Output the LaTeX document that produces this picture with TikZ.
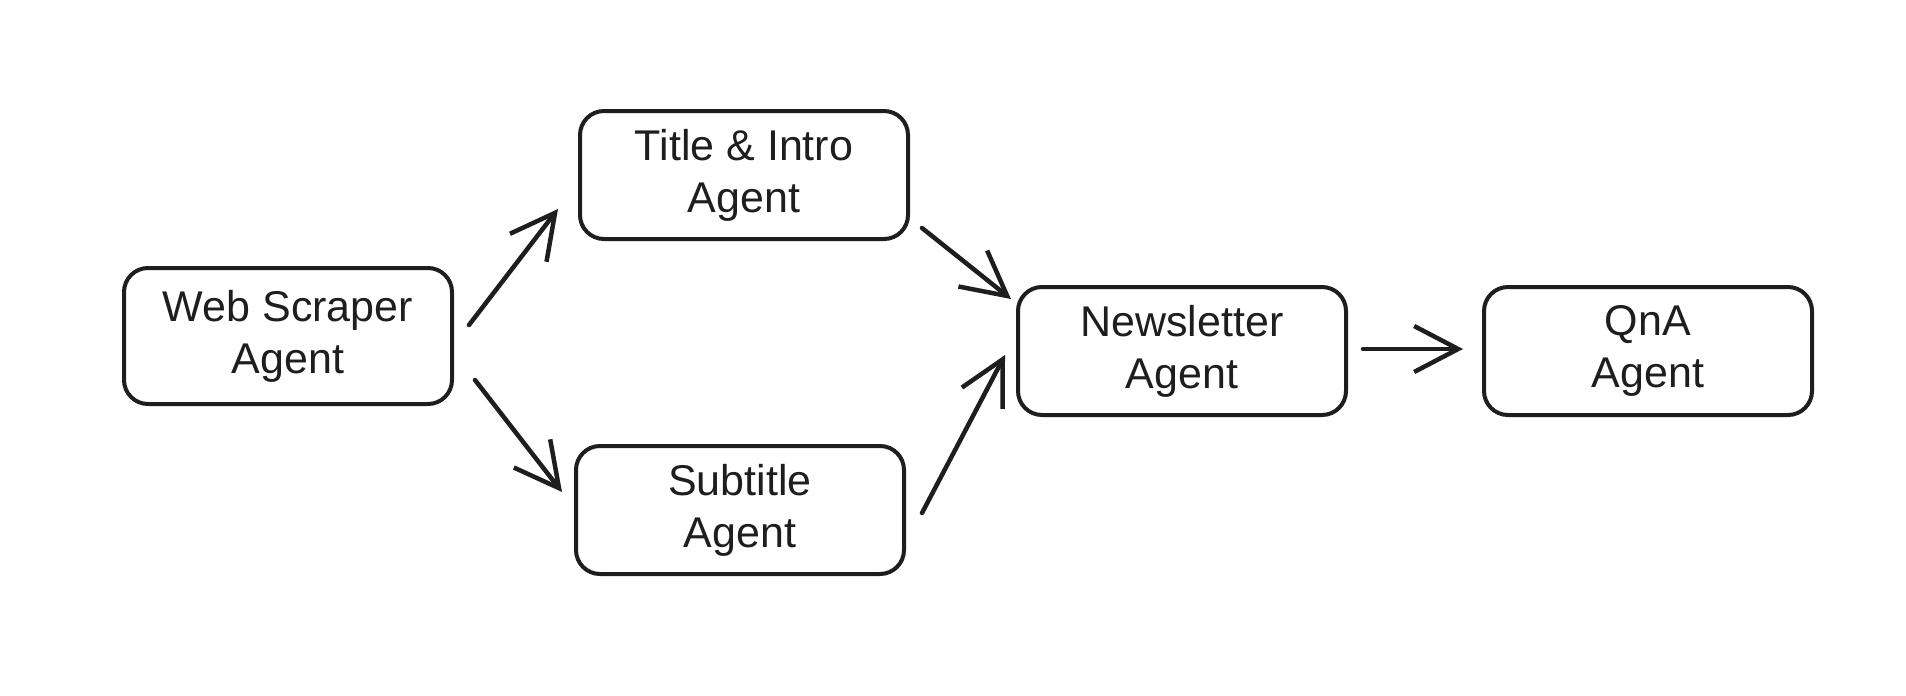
\documentclass[tikz,border=0pt]{standalone}
\usepackage{fontspec}
\setmainfont{Liberation Sans}
\usetikzlibrary{arrows.meta,calc}
\definecolor{ink}{HTML}{1E1E1E}
\tikzset{
  agentbox/.style={draw=ink, line width=4pt, rounded corners=24pt, fill=white,
    minimum width=328pt, minimum height=128pt, inner sep=0pt, align=center,
    text=ink, font=\fontsize{43}{52}\selectfont},
  flow/.style={draw=ink, line width=4.5pt, line cap=round,
    -{Straight Barb[length=44pt,width=46pt,line width=4.5pt]}}
}
\begin{document}
\begin{tikzpicture}[x=1pt,y=-1pt]
\useasboundingbox[fill=white] (0,0) rectangle (1906,696);
\node[agentbox, minimum height=136pt] (web) at (288,336) {Web Scraper\\Agent};
\node[agentbox] (title) at (744,175) {Title \& Intro\\Agent};
\node[agentbox] (sub)   at (740,510) {Subtitle\\Agent};
\node[agentbox] (news)  at (1182,351) {Newsletter\\Agent};
\node[agentbox] (qna)   at (1648,351) {QnA\\Agent};
\draw[flow] ($(web.east)+(15,-11)$) -- ($(title.west)+(-20,34)$);
\draw[flow] ($(web.east)+(21,44)$) -- ($(sub.west)+(-12,-18)$);
\draw[flow] ($(title.south east)+(12,-13)$) -- ($(news.north west)+(-5,14)$);
\draw[flow] ($(sub.east)+(16,3)$) -- ($(news.west)+(-11,4)$);
\draw[flow] ($(news.east)+(15,-2)$) -- ($(qna.west)+(-19,-2)$);
\end{tikzpicture}
\end{document}
